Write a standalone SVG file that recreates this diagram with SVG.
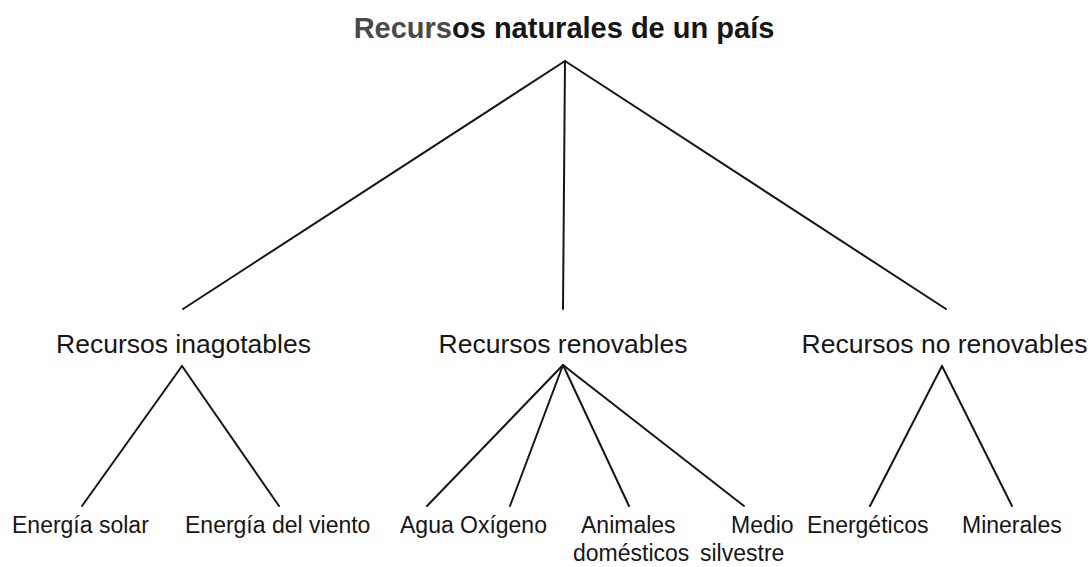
<svg xmlns="http://www.w3.org/2000/svg" width="1091" height="567" viewBox="0 0 1091 567">
<style>
.t{font-family:"Liberation Sans",Arial,sans-serif;fill:#161616}
.title{font-size:29px;font-weight:bold}
.l2{font-size:26.5px}
.l3{font-size:23px}
.c line{stroke:#161616;stroke-width:2;stroke-linecap:round}
</style>
<rect width="1091" height="567" fill="#fff"/>
<g id="root"><text class="t title" x="564" y="38" text-anchor="middle"><tspan fill="#4a4a4a">Recurs</tspan>os naturales de un país</text></g>
<g id="inagotables"><text class="t l2" x="183.5" y="353" text-anchor="middle">Recursos inagotables</text></g>
<g id="renovables"><text class="t l2" x="563" y="353" text-anchor="middle">Recursos renovables</text></g>
<g id="norenovables"><text class="t l2" x="944.5" y="353" text-anchor="middle">Recursos no renovables</text></g>
<g id="solar"><text class="t l3" x="12" y="533">Energía solar</text></g>
<g id="viento"><text class="t l3" x="185" y="533">Energía del viento</text></g>
<g id="agua"><text class="t l3" x="400" y="533">Agua</text></g>
<g id="oxigeno"><text class="t l3" x="460" y="533">Oxígeno</text></g>
<g id="animales"><text class="t l3" x="581" y="533">Animales</text><text class="t l3" x="573" y="561">domésticos</text></g>
<g id="medio"><text class="t l3" x="731" y="533">Medio</text><text class="t l3" x="700" y="561">silvestre</text></g>
<g id="energeticos"><text class="t l3" x="807" y="533">Energéticos</text></g>
<g id="minerales"><text class="t l3" x="962" y="533">Minerales</text></g>
<g id="connectors" class="c">
<line x1="565" y1="61" x2="183" y2="309"/>
<line x1="565" y1="61" x2="563" y2="309"/>
<line x1="565" y1="61" x2="946" y2="309"/>
<line x1="182" y1="366" x2="82" y2="506"/>
<line x1="182" y1="366" x2="279" y2="506"/>
<line x1="563" y1="365" x2="427" y2="506"/>
<line x1="563" y1="365" x2="510" y2="506"/>
<line x1="563" y1="365" x2="629" y2="506"/>
<line x1="563" y1="365" x2="744" y2="506"/>
<line x1="942" y1="366" x2="870" y2="506"/>
<line x1="942" y1="366" x2="1012" y2="506"/>
</g>
</svg>
